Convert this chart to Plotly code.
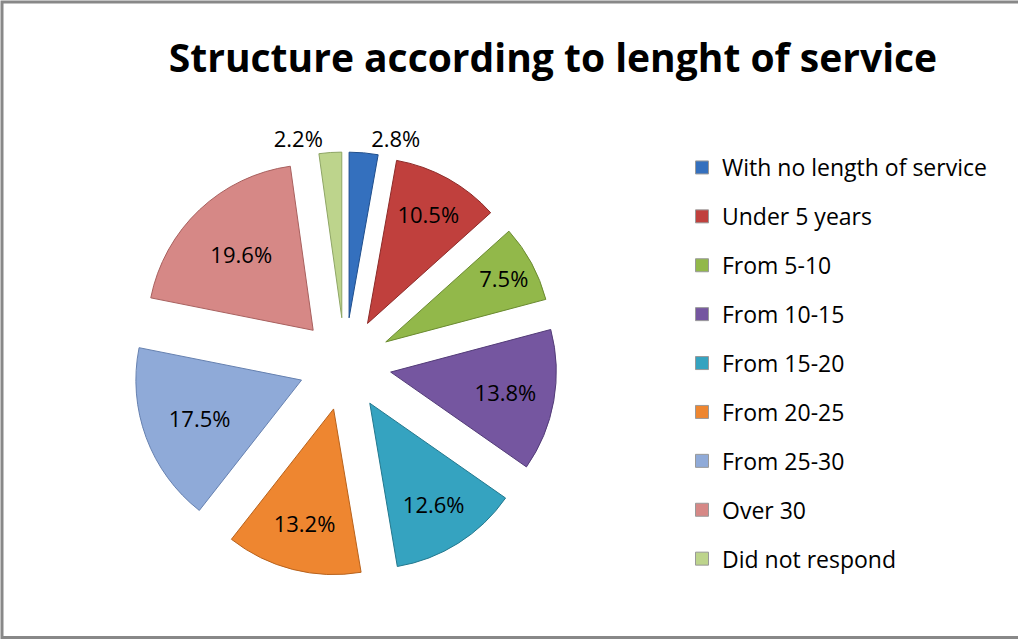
import plotly.graph_objects as go

categories = ["With no length of service", "Under 5 years", "From 5-10", "From 10-15",
              "From 15-20", "From 20-25", "From 25-30", "Over 30", "Did not respond"]
values = [2.8, 10.5, 7.5, 13.8, 12.6, 13.2, 17.5, 19.6, 2.2]
colors = ["#3470BE", "#C0403D", "#92B84A", "#7556A0", "#35A3C0",
          "#EE8630", "#8FAAD8", "#D68886", "#BDD48C"]
edges = ["#1F4E8C", "#8C2A28", "#6A8A30", "#533C78", "#23788E",
         "#B8621C", "#6681B0", "#A8605E", "#8FA666"]
title = "Structure according to lenght of service"

W, H = 1018, 639
FONT = "Open Sans"
fig = go.Figure()

text_pos = ["outside" if v < 5 else "inside" for v in values]

fig.add_trace(go.Pie(
    labels=categories, values=values, sort=False, direction="clockwise", rotation=0,
    pull=[0.28] * len(values),
    marker=dict(colors=colors, line=dict(color=edges, width=1)),
    texttemplate="%{value:.1f}%", textposition=text_pos,
    insidetextorientation="horizontal",
    textfont=dict(family=FONT, size=22, color="black"),
    showlegend=False, hoverinfo="label+value",
    domain=dict(x=[(345 - 212) / W, (345 + 212) / W],
                y=[(H - 364 - 212) / H, (H - 364 + 212) / H]),
))

for c, col in zip(categories, colors):
    fig.add_trace(go.Scatter(
        x=[None], y=[None], mode="markers", name=c, legendgroup=c,
        marker=dict(symbol="square", size=13, color=col,
                    line=dict(color="#999999", width=1)),
    ))

fig.update_layout(
    width=W, height=H, autosize=False,
    margin=dict(l=0, r=0, t=0, b=0, pad=0, autoexpand=False),
    paper_bgcolor="white", plot_bgcolor="white",
    xaxis=dict(visible=False), yaxis=dict(visible=False),
    title=dict(text=title, x=553 / W, xanchor="center", y=1 - 58 / H, yanchor="middle",
               font=dict(family=FONT, size=39, color="black", weight="bold")),
    legend=dict(x=682 / W, y=1 - 146 / H, xanchor="left", yanchor="top",
                traceorder="grouped", tracegroupgap=16,
                font=dict(family=FONT, size=23, color="black"),
                bgcolor="rgba(0,0,0,0)"),
    shapes=[dict(type="rect", xref="paper", yref="paper",
                 x0=2 / W, x1=1.02, y0=1.5 / H, y1=1 - 2 / H,
                 line=dict(color="#888888", width=3))],
)

fig.write_html("out.html", config={"responsive": False, "displayModeBar": False},
               post_script="document.body.style.margin='0';document.body.style.overflow='hidden';")
